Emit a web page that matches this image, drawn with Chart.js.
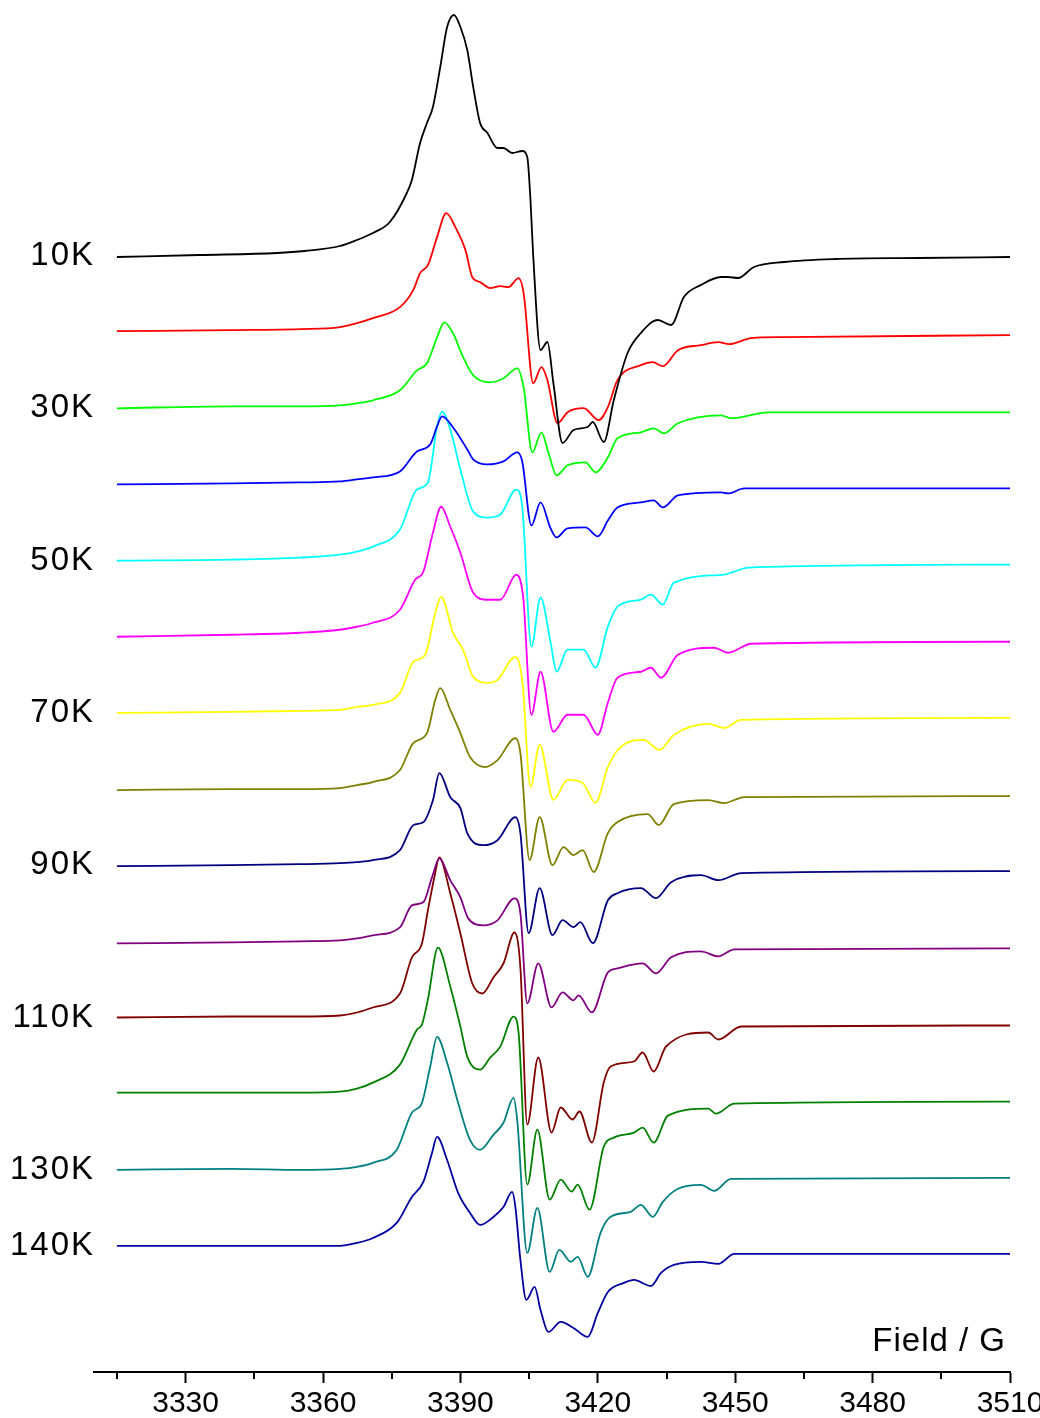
<!DOCTYPE html>
<html>
<head>
<meta charset="utf-8">
<title>EPR spectra vs temperature</title>
<script src="https://cdn.jsdelivr.net/npm/chart.js@4.4.1/dist/chart.umd.min.js"></script>
<style>
  html, body { margin: 0; padding: 0; background: #fff; overflow: hidden; }
  #wrap { width: 1040px; height: 1418px; overflow: hidden; }
</style>
</head>
<body>
<div id="wrap"><canvas id="epr" width="1080" height="1418"></canvas></div>
<script>
// field axis, Gauss
const majorTicks = [3330, 3360, 3390, 3420, 3450, 3480, 3510];
const minorTicks = [3315, 3345, 3375, 3405, 3435, 3465, 3495];

const temperatures = ['10K', '20K', '30K', '40K', '50K', '60K', '70K',
                      '80K', '90K', '100K', '110K', '120K', '130K', '140K'];
const labelledTemps = ['10K', '30K', '50K', '70K', '90K', '110K', '130K', '140K'];

// [field (G), signal] - signal is relative to the trace's own baseline
const s10K = [[3315,-1],[3333,1],[3350,3],[3356,5],[3363.7,10],[3367.4,16],[3370.9,23],[3374.6,34],[3378.3,63],[3379.4,76],[3381.2,113],[3382.7,133],[3384.0,149],[3385.6,189],[3387.1,229],[3388.6,241],[3390.0,229],[3391.5,206],[3392.8,169],[3394.3,133],[3395.9,123],[3398.1,108],[3399.4,108],[3401.3,103],[3403.5,105],[3404.6,99],[3405.3,56],[3405.9,0],[3407.5,-94],[3409.0,-86],[3410.3,-127],[3412.3,-187],[3414.7,-174],[3417.8,-171],[3418.9,-166],[3421.3,-186],[3423.5,-144],[3426.5,-97],[3429.4,-77],[3433.1,-64],[3436.0,-69],[3438.8,-41],[3442.5,-29],[3446.9,-21],[3448.4,-21],[3450.6,-22],[3454.1,-11],[3460.7,-6],[3471.7,-3],[3490,-2],[3510,-1]];
const s20K = [[3315,1],[3340,2],[3355,3],[3363.7,5],[3367.4,9],[3370.9,14],[3376.8,25],[3379.7,42],[3381.2,59],[3382.9,67],[3384.9,95],[3386.9,119],[3388.9,105],[3391.1,82],[3392.6,55],[3394.3,50],[3396.5,44],[3398.7,46],[3400.5,45],[3402.7,54],[3403.8,39],[3405.9,-51],[3407.7,-35],[3409.0,-48],[3411.2,-91],[3413.4,-80],[3416.9,-76],[3420.2,-88],[3422.2,-75],[3424.3,-48],[3429.4,-33],[3432.0,-30],[3434.2,-34],[3437.5,-18],[3442.5,-13],[3446.3,-10],[3448.7,-12],[3453.5,-6],[3460.7,-5],[3510,-3]];
const s30K = [[3315,0],[3340,2],[3355,2],[3363.7,3],[3367.4,5],[3370.9,8],[3376.8,18],[3380.5,38],[3382.7,45],[3384.9,71],[3386.5,86],[3388.4,75],[3390.6,51],[3392.8,33],[3396.5,26],[3399.4,30],[3402.4,40],[3403.8,21],[3405.7,-44],[3407.7,-24],[3409.2,-44],[3411.0,-67],[3413.4,-57],[3417.3,-54],[3419.5,-64],[3422.2,-49],[3424.3,-30],[3429.4,-24],[3432.2,-20],[3434.4,-25],[3437.5,-15],[3446.9,-7],[3449.1,-10],[3457.2,-4],[3510,-4]];
const s40K = [[3315,0],[3340,1],[3355,2],[3363.7,3],[3367.4,5],[3370.9,7],[3376.8,13],[3380.5,33],[3383.4,40],[3384.9,58],[3386.0,68],[3388.4,57],[3391.5,35],[3392.8,25],[3395.9,20],[3399.4,23],[3402.4,32],[3403.5,23],[3405.5,-41],[3407.5,-18],[3409.7,-44],[3411.0,-53],[3413.4,-44],[3417.3,-43],[3420.0,-52],[3422.2,-36],[3424.3,-23],[3429.4,-18],[3432.2,-16],[3434.2,-23],[3437.5,-11],[3446.9,-8],[3448.4,-9],[3452.0,-4],[3510,-4]];
const s50K = [[3315,0],[3340,1],[3355,3],[3363.7,6],[3367.4,9],[3370.9,14],[3376.8,31],[3380.5,71],[3382.9,78],[3384.9,134],[3386.0,149],[3387.8,131],[3390.0,91],[3392.8,49],[3395.9,43],[3398.7,46],[3402.2,71],[3403.5,54],[3405.5,-86],[3407.5,-37],[3409.7,-82],[3411.0,-111],[3413.4,-89],[3416.9,-89],[3419.5,-107],[3422.2,-66],[3424.3,-46],[3429.4,-39],[3431.6,-34],[3434.2,-44],[3436.6,-22],[3447.6,-14],[3449.8,-11],[3452.8,-7],[3510,-4]];
const s60K = [[3315,0],[3340,2],[3355,4],[3363.7,7],[3367.4,10],[3370.9,14],[3376.8,27],[3380.1,57],[3381.9,65],[3384.0,104],[3385.8,130],[3387.8,110],[3390.0,84],[3392.8,44],[3395.9,37],[3398.7,37],[3402.2,62],[3403.7,40],[3405.5,-78],[3407.5,-35],[3410.3,-95],[3413.4,-78],[3416.9,-78],[3420.0,-98],[3422.2,-66],[3424.3,-41],[3429.4,-35],[3431.6,-31],[3433.8,-41],[3437.5,-18],[3445.4,-11],[3448.4,-16],[3453.5,-7],[3510,-5]];
const s70K = [[3315,0],[3340,1],[3355,2],[3363.7,3],[3367.4,6],[3370.9,8],[3376.8,20],[3379.7,51],[3382.3,58],[3384.5,100],[3385.8,116],[3388.4,80],[3390.6,63],[3392.8,36],[3395.9,30],[3398.1,33],[3402.0,56],[3403.5,33],[3405.3,-74],[3407.3,-32],[3410.3,-87],[3413.4,-67],[3416.7,-70],[3419.5,-90],[3422.2,-54],[3425.0,-34],[3430.0,-27],[3433.5,-37],[3436.6,-22],[3444.1,-11],[3447.6,-15],[3451.3,-7],[3510,-5]];
const s80K = [[3315,-1],[3340,0],[3355,0],[3363.7,1],[3367.4,4],[3370.9,7],[3376.8,19],[3379.7,46],[3382.7,56],[3384.5,89],[3385.6,101],[3387.8,79],[3390.0,56],[3392.1,32],[3395.4,22],[3398.1,29],[3402.0,51],[3403.1,36],[3405.1,-71],[3407.3,-28],[3410.1,-76],[3412.5,-58],[3414.7,-66],[3416.7,-61],[3419.1,-83],[3422.2,-44],[3424.3,-33],[3430.9,-25],[3433.3,-36],[3436.6,-15],[3444.1,-11],[3447.6,-14],[3452.0,-8],[3510,-7]];
const s90K = [[3315,-1],[3340,0],[3355,1],[3363.7,2],[3367.4,3],[3370.9,5],[3376.8,15],[3379.7,40],[3381.9,43],[3384.0,65],[3385.4,92],[3387.8,68],[3390.0,57],[3391.5,32],[3395.0,20],[3398.1,25],[3402.0,48],[3403.1,32],[3404.9,-68],[3407.3,-23],[3410.1,-70],[3412.3,-55],[3414.7,-62],[3416.2,-57],[3418.9,-78],[3422.2,-35],[3424.3,-28],[3429.4,-23],[3432.7,-33],[3436.0,-17],[3442.5,-10],[3446.3,-15],[3451.3,-8],[3510,-6]];
const s100K = [[3315,-2],[3340,-1],[3355,0],[3363.7,1],[3367.4,3],[3370.9,6],[3376.8,14],[3379.4,36],[3381.9,39],[3383.8,64],[3385.4,83],[3387.8,61],[3390.0,44],[3391.7,23],[3395.0,16],[3398.1,21],[3401.8,43],[3403.1,28],[3404.6,-62],[3407.0,-22],[3409.9,-66],[3412.3,-51],[3414.7,-59],[3415.8,-54],[3418.7,-71],[3422.2,-31],[3424.3,-27],[3429.8,-22],[3432.7,-32],[3436.0,-16],[3442.5,-10],[3446.3,-15],[3449.8,-8],[3510,-7]];
const s110K = [[3315,0],[3340,1],[3355,1],[3363.7,2],[3367.4,5],[3370.9,10],[3376.8,24],[3379.4,60],[3381.6,74],[3382.9,107],[3384.3,140],[3385.4,160],[3387.8,124],[3390.0,84],[3392.6,34],[3394.8,24],[3397.2,40],[3399.4,54],[3401.8,85],[3403.1,50],[3404.6,-107],[3407.0,-40],[3409.9,-115],[3411.9,-90],[3414.5,-102],[3416.0,-94],[3418.7,-125],[3421.3,-65],[3422.8,-49],[3427.9,-44],[3429.8,-35],[3432.2,-54],[3434.9,-29],[3444.1,-15],[3446.3,-22],[3451.3,-9],[3510,-8]];
const s120K = [[3315,1],[3340,1],[3355,1],[3363.7,2],[3367.4,5],[3370.9,11],[3376.8,29],[3380.5,64],[3381.6,69],[3382.9,94],[3385.1,146],[3387.8,107],[3390.0,67],[3391.5,37],[3394.3,24],[3396.5,36],[3398.7,47],[3401.6,77],[3402.7,61],[3404.6,-91],[3406.8,-36],[3409.5,-106],[3411.9,-86],[3414.3,-98],[3415.6,-91],[3418.2,-116],[3421.3,-53],[3423.5,-44],[3427.9,-39],[3429.8,-34],[3432.2,-49],[3435.3,-22],[3444.1,-15],[3445.8,-20],[3449.8,-10],[3510,-8]];
const s130K = [[3315,0],[3340,1],[3355,0],[3363.7,1],[3367.4,3],[3370.9,7],[3376.1,20],[3379.4,57],[3381.6,67],[3383.4,103],[3384.9,133],[3387.1,107],[3389.5,67],[3392.1,30],[3394.3,20],[3397.2,35],[3399.4,47],[3401.6,72],[3402.4,50],[3404.6,-83],[3406.8,-38],[3409.5,-102],[3411.6,-80],[3414.1,-92],[3415.6,-87],[3417.8,-107],[3420.6,-63],[3422.8,-47],[3427.2,-42],[3429.4,-35],[3432.0,-47],[3434.2,-32],[3437.5,-19],[3442.5,-15],[3445.4,-21],[3449.1,-9],[3510,-8]];
const s140K = [[3315,0],[3340,0],[3355,0],[3363.7,0],[3367.4,3],[3370.9,8],[3376.1,23],[3379.4,49],[3381.9,64],[3383.8,93],[3384.9,109],[3387.1,86],[3389.5,53],[3392.1,33],[3394.3,21],[3397.2,29],[3399.4,39],[3401.3,54],[3402.0,39],[3403.1,-14],[3404.4,-54],[3406.2,-41],[3407.5,-64],[3409.2,-86],[3411.9,-76],[3414.7,-82],[3417.8,-91],[3420.0,-67],[3422.2,-46],[3425.7,-37],[3427.9,-34],[3431.6,-40],[3433.8,-27],[3436.6,-19],[3442.5,-16],[3446.3,-18],[3449.8,-8],[3510,-8]];

const spectra = [s10K, s20K, s30K, s40K, s50K, s60K, s70K,
                 s80K, s90K, s100K, s110K, s120K, s130K, s140K];

const traceColours = ['#000000', '#ff0000', '#00ff00', '#0000ff', '#00ffff', '#ff00ff', '#ffff00',
                      '#808000', '#000080', '#800080', '#800000', '#008000', '#008080', '#0000a0'];

// stacking: each trace sits a fixed step below the previous one
const yRange = 1372;
const firstBaseline = 1116;
const traceStep = 76.15;
const baselineOf = i => firstBaseline - i * traceStep;

const FONT = '"Liberation Sans", Arial, Helvetica, sans-serif';

const datasets = spectra.map((pts, i) => ({
  label: temperatures[i],
  data: pts.map(([f, s]) => ({ x: f, y: baselineOf(i) + s })),
  borderColor: traceColours[i],
  borderWidth: 1.8,
  pointRadius: 0,
  fill: false,
  cubicInterpolationMode: 'monotone'
}));

// minor ticks, temperature labels and the axis caption
const decorations = {
  id: 'decorations',
  afterDraw(chart) {
    const { ctx, chartArea } = chart;
    const x = chart.scales.x, y = chart.scales.y;
    const axisY = chartArea.bottom;
    ctx.save();
    ctx.strokeStyle = '#000';
    ctx.lineWidth = 2;
    minorTicks.forEach(v => {
      const px = Math.round(x.getPixelForValue(v));
      ctx.beginPath();
      ctx.moveTo(px, axisY);
      ctx.lineTo(px, axisY + 7);
      ctx.stroke();
    });

    ctx.fillStyle = '#000';
    ctx.textAlign = 'right';
    ctx.textBaseline = 'middle';
    ctx.font = '33px ' + FONT;
    ctx.letterSpacing = '2px';
    labelledTemps.forEach(t => {
      const i = temperatures.indexOf(t);
      ctx.fillText(t, chartArea.left + 1, y.getPixelForValue(baselineOf(i)));
    });

    ctx.letterSpacing = '1px';
    ctx.fillText('Field / G', chartArea.right - 4, axisY - 30);
    ctx.restore();
  }
};

new Chart(document.getElementById('epr'), {
  type: 'line',
  data: { datasets },
  options: {
    responsive: false,
    animation: false,
    layout: { padding: { left: 94, right: 70, top: 0, bottom: 0 } },
    plugins: { legend: { display: false }, tooltip: { enabled: false } },
    scales: {
      x: {
        type: 'linear',
        min: 3310,
        max: 3510,
        afterBuildTicks: scale => { scale.ticks = majorTicks.map(v => ({ value: v })); },
        afterFit: scale => { scale.height = 46; },
        border: { display: true, color: '#000', width: 2 },
        grid: { drawOnChartArea: false, drawTicks: true, tickLength: 11, tickColor: '#000', tickWidth: 2 },
        ticks: {
          color: '#000',
          padding: 3,
          maxRotation: 0,
          font: { family: FONT, size: 30 },
          callback: v => String(v)
        }
      },
      y: {
        display: false,
        min: 0,
        max: yRange
      }
    }
  },
  plugins: [decorations]
});
</script>
</body>
</html>
